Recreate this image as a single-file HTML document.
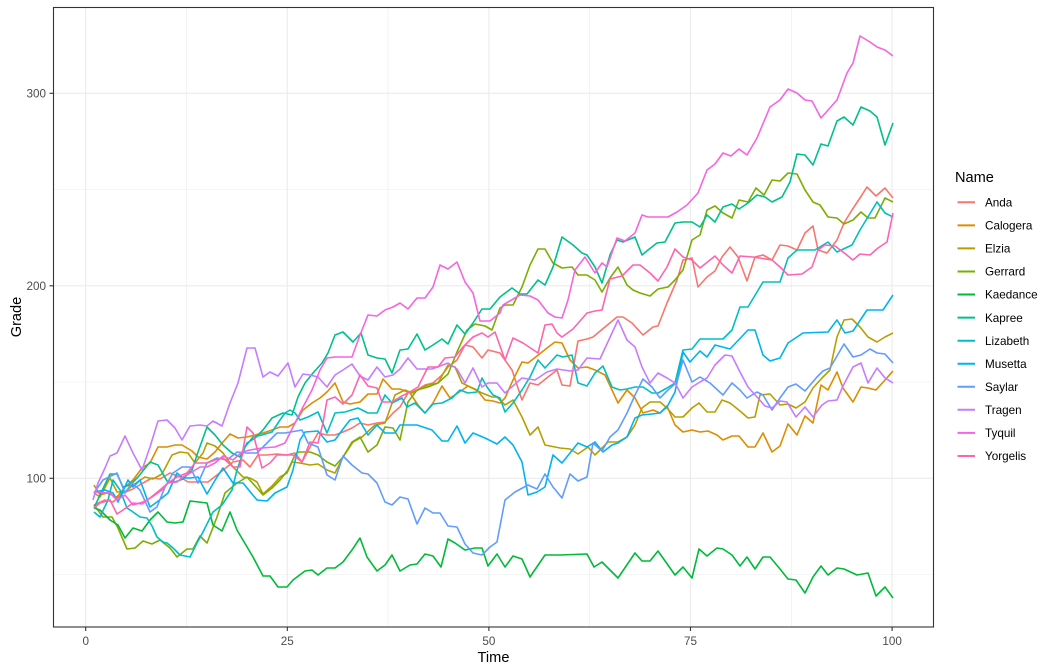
<!DOCTYPE html>
<html><head><meta charset="utf-8"><style>
html,body{margin:0;padding:0;background:#fff;}
svg{display:block;}
text{font-family:"Liberation Sans",Arial,sans-serif;}
</style></head><body>
<svg width="1056" height="672" viewBox="0 0 1056 672" xmlns="http://www.w3.org/2000/svg">
<rect x="0" y="0" width="1056" height="672" fill="#fff"/>
<g stroke="#EBEBEB" stroke-width="0.6" fill="none">
<line x1="53.5" x2="933.5" y1="574.5" y2="574.5"/>
<line x1="53.5" x2="933.5" y1="382" y2="382"/>
<line x1="53.5" x2="933.5" y1="189.5" y2="189.5"/>
<line y1="7.5" y2="627" x1="186.5" x2="186.5"/>
<line y1="7.5" y2="627" x1="388.1" x2="388.1"/>
<line y1="7.5" y2="627" x1="589.7" x2="589.7"/>
<line y1="7.5" y2="627" x1="791.3" x2="791.3"/>
</g>
<g stroke="#EBEBEB" stroke-width="1.1" fill="none">
<line x1="53.5" x2="933.5" y1="478.3" y2="478.3"/>
<line x1="53.5" x2="933.5" y1="285.8" y2="285.8"/>
<line x1="53.5" x2="933.5" y1="93.3" y2="93.3"/>
<line y1="7.5" y2="627" x1="85.7" x2="85.7"/>
<line y1="7.5" y2="627" x1="287.3" x2="287.3"/>
<line y1="7.5" y2="627" x1="488.9" x2="488.9"/>
<line y1="7.5" y2="627" x1="690.5" x2="690.5"/>
<line y1="7.5" y2="627" x1="892.1" x2="892.1"/>
</g>
<g fill="none" stroke-width="1.6" stroke-linejoin="round">
<polyline stroke="#F8766D" points="94,505 105,500 113,502 123,493 133,489 143,483 152,478 160,479 170,473 180,477 188,482 198,482 208,482 217,475 227,467 233,462 243,460 250,467 258,455 267,455 277,454 287,455 295,453 302,462 310,447 318,433 327,435 335,435 343,432 352,428 360,423 368,425 377,423 385,422 393,413 400,407 408,393 417,390 425,385 433,383 442,375 448,367 457,360 465,345 473,347 482,358 488,350 500,353 512,370 522,400 530,383 538,385 548,377 557,370 562,385 570,386 578,341 587,339 593,337 605,327 617,317 623,317 632,323 643,335 653,327 658,326 667,303 677,280 683,260 692,258 698,287 707,277 715,271 722,257 730,247 738,257 747,281 755,257 763,255 772,260 780,245 788,246 797,250 805,233 813,226 818,250 827,253 837,240 844,223 852,210 860,198 867,187 876,196 885,188 893,198"/>
<polyline stroke="#DE8C00" points="94,485 100,495 107,493 117,497 125,487 133,480 142,468 150,463 158,447 167,447 175,445 182,445 192,451 198,457 207,459 215,452 223,442 230,434 238,438 247,437 255,435 263,433 272,430 280,427 288,427 295,423 303,410 312,403 320,398 327,392 335,383 343,402 350,404 360,402 368,394 377,394 383,379 392,389 400,389 410,393 418,405 425,413 433,403 442,386 450,398 458,393 468,386 477,390 485,400 493,401 500,403 505,398 513,380 522,362 528,363 537,356 547,348 555,342 562,343 570,360 578,368 587,367 595,370 605,375 612,390 618,403 627,390 635,398 643,413 653,410 660,413 667,406 675,425 683,432 692,430 700,432 708,431 717,435 723,440 732,436 739,436 748,447 755,447 763,433 772,452 780,446 788,424 797,435 805,416 813,423 821,385 828,390 837,372 843,388 853,402 861,387 868,388 876,390 885,380 893,371"/>
<polyline stroke="#B79F00" points="94,493 100,497 110,478 117,492 125,492 133,485 145,477 153,479 162,474 172,455 180,452 188,453 195,463 203,453 207,443 215,446 223,453 233,467 243,477 250,478 257,482 263,494 272,486 280,477 287,473 292,462 300,463 310,465 318,464 327,470 335,473 343,457 353,442 362,437 375,425 385,423 395,395 405,390 412,393 418,390 428,385 438,383 448,365 455,367 462,383 472,388 482,393 492,397 497,397 505,405 513,400 522,417 530,435 538,427 545,445 560,448 570,449 578,454 588,447 595,455 602,448 608,442 618,442 627,437 635,425 642,408 650,402 660,402 667,408 675,417 683,417 692,408 699,403 707,412 715,412 722,400 730,403 740,411 748,418 755,417 760,395 770,394 780,405 788,404 796,408 805,402 813,388 822,378 830,370 837,337 844,320 852,319 860,327 868,337 877,342 885,337 893,333"/>
<polyline stroke="#7CAE00" points="94,505 103,517 112,517 118,528 127,549 135,548 143,541 152,544 160,540 170,548 177,557 187,549 193,549 200,536 207,543 217,517 225,493 237,483 247,477 257,488 263,495 272,488 280,480 288,470 295,455 298,452 310,452 318,455 327,462 335,466 343,457 352,442 360,437 368,452 377,445 385,427 393,428 400,440 408,402 417,390 428,387 438,383 448,374 457,352 467,330 475,324 485,326 492,330 500,308 505,305 513,305 522,287 530,265 538,249 545,249 553,263 562,268 572,267 578,275 587,275 595,280 602,292 610,278 618,267 627,285 633,290 640,293 650,296 658,289 668,287 675,280 683,270 692,240 700,235 707,210 715,206 723,213 732,218 739,200 748,202 756,188 764,195 772,180 780,181 788,173 797,174 805,190 813,202 820,205 828,217 837,218 844,224 853,220 861,212 868,218 875,218 885,198 893,202"/>
<polyline stroke="#00BA38" points="94,508 100,510 110,520 118,525 125,538 133,528 142,531 150,520 158,512 167,522 175,523 183,522 190,501 207,503 213,525 222,531 230,512 237,530 253,557 263,576 270,576 278,587 287,587 293,580 305,571 312,570 318,575 327,568 335,568 343,562 352,550 360,538 367,557 377,571 385,565 392,555 400,571 410,565 417,564 425,554 433,556 441,567 448,539 455,543 465,550 475,548 482,548 488,566 497,554 505,567 513,556 522,559 530,577 545,555 560,555 587,554 594,567 602,562 618,578 635,553 642,561 650,561 658,551 675,575 683,567 692,578 699,549 707,556 717,548 723,549 732,555 740,566 747,557 755,569 763,557 770,557 780,569 788,579 796,580 805,593 813,577 821,566 828,575 837,568 844,569 857,575 868,573 876,596 885,587 893,598"/>
<polyline stroke="#00C08B" points="94,508 100,495 110,474 117,474 123,487 130,485 138,477 150,462 158,465 167,481 175,482 183,479 192,470 198,452 207,427 215,435 223,445 232,453 240,457 247,443 255,438 263,430 272,418 283,413 292,415 298,397 305,383 313,373 322,363 328,353 335,335 343,332 353,342 361,333 368,355 377,358 385,359 392,373 400,350 408,349 417,334 425,350 433,345 442,339 448,344 457,325 465,334 473,323 482,309 490,309 500,297 512,288 520,294 527,294 538,280 545,285 553,267 562,237 573,245 582,253 587,255 595,267 602,283 610,255 617,240 623,242 635,237 642,255 648,250 657,243 665,242 675,223 683,222 692,222 700,227 707,215 715,222 723,207 732,204 739,209 748,203 757,195 765,197 772,202 782,197 790,182 797,154 805,155 813,165 821,144 828,146 837,121 844,117 853,125 861,107 870,111 877,117 885,145 893,123"/>
<polyline stroke="#00BFC4" points="94,512 100,517 108,500 113,480 120,490 127,508 133,512 140,517 147,518 152,526 157,537 163,542 167,543 173,548 180,555 190,557 197,543 203,532 213,512 222,505 232,490 237,470 245,447 253,437 262,435 272,432 280,420 285,413 290,410 295,413 300,420 308,417 318,412 327,433 335,413 345,412 358,408 368,413 377,413 385,395 392,403 402,398 407,407 415,403 425,413 433,404 442,403 452,398 460,390 468,393 477,392 482,378 487,387 493,395 500,398 505,412 513,403 522,390 530,377 538,360 545,368 557,355 563,357 572,355 578,383 587,386 595,373 603,366 612,387 620,390 627,389 635,387 643,387 652,393 658,393 667,388 675,383 683,350 692,349 700,339 723,339 732,330 740,307 748,307 763,282 780,282 788,258 797,250 815,250 828,242 837,252 852,245 860,230 877,202 885,213 893,217"/>
<polyline stroke="#00B4F0" points="94,492 105,490 113,493 118,502 128,480 133,487 140,480 150,507 157,502 168,493 177,473 183,478 190,478 198,477 207,494 217,477 223,468 233,483 243,483 257,500 267,501 275,493 287,487 293,470 300,440 305,432 318,431 327,442 335,440 343,429 350,420 358,418 368,435 377,425 385,433 395,433 400,425 417,425 432,430 442,441 448,441 457,426 465,443 473,433 485,438 497,444 505,437 513,445 522,462 528,495 537,492 545,487 553,455 562,463 570,453 578,443 587,447 595,442 603,452 612,445 618,443 627,437 635,418 642,415 652,414 660,413 667,407 675,392 683,352 690,362 700,351 707,357 715,345 730,349 748,330 755,330 763,355 770,361 780,358 788,343 803,333 828,332 837,320 845,333 853,331 867,310 883,310 893,295"/>
<polyline stroke="#619CFF" points="94,493 103,480 117,473 125,493 132,483 140,490 150,512 157,507 165,487 173,473 182,467 190,467 198,483 207,463 217,458 227,460 237,452 247,453 257,453 267,443 277,433 285,433 302,430 308,443 318,447 327,475 335,480 343,456 352,465 362,473 368,474 377,483 385,502 392,505 400,497 408,499 417,524 425,508 433,513 440,513 448,526 457,527 465,544 473,553 482,555 490,547 497,542 505,500 515,492 528,485 537,489 545,474 553,487 562,498 570,474 578,481 587,477 593,443 602,451 610,437 618,430 627,413 635,395 643,379 652,387 660,398 668,390 677,382 683,360 692,382 700,377 710,383 723,395 732,383 740,390 747,398 757,392 763,395 772,410 780,398 788,387 796,384 805,391 817,377 823,371 830,368 844,344 853,357 861,355 870,349 877,353 885,354 893,363"/>
<polyline stroke="#C77CFF" points="93,500 98,483 105,468 110,456 117,453 125,436 133,453 142,470 150,447 158,421 167,420 175,428 182,440 190,426 200,425 207,426 213,421 222,426 230,403 238,383 247,348 255,348 263,377 270,372 278,376 288,363 295,387 303,374 310,375 318,377 327,387 335,375 343,370 352,364 360,376 368,380 377,367 385,377 393,375 400,369 408,358 417,369 432,369 448,363 457,369 465,383 473,368 482,387 488,383 497,383 505,393 522,378 535,380 547,372 557,369 570,371 578,370 587,358 600,359 618,320 627,340 635,347 642,367 650,383 658,373 667,378 675,383 683,398 692,387 700,382 707,378 715,365 725,355 732,356 740,372 748,387 757,397 765,406 772,408 780,401 787,402 796,417 805,407 813,417 822,405 828,401 837,400 843,386 853,367 861,363 868,383 877,368 885,378 893,383"/>
<polyline stroke="#F564E3" points="94,492 110,493 117,500 125,495 133,505 143,502 152,497 162,490 168,483 177,482 183,477 192,472 200,467 207,467 215,463 223,456 233,460 242,452 250,450 262,448 275,447 285,443 295,423 303,407 312,390 320,370 327,358 335,357 352,357 360,335 368,315 377,316 385,310 393,307 400,303 408,309 417,298 425,298 433,287 440,265 448,269 457,262 465,282 473,293 480,321 490,321 500,313 503,305 520,295 530,296 538,300 548,313 555,317 562,318 568,300 575,270 585,257 590,265 595,273 602,263 607,267 617,238 625,241 635,233 642,215 648,217 660,217 668,217 677,212 687,205 698,193 707,170 715,164 723,153 731,156 739,149 747,155 757,138 770,107 780,100 788,89 797,93 805,100 812,101 821,118 837,100 847,73 853,63 860,36 870,42 877,47 885,50 893,56"/>
<polyline stroke="#FF64B0" points="94,508 100,503 110,500 117,514 123,510 133,503 142,504 150,498 160,490 168,483 177,477 187,473 195,463 207,463 215,460 223,458 233,467 240,467 247,427 253,433 262,468 270,463 277,455 287,455 293,455 302,462 310,442 318,443 323,423 327,400 335,397 343,404 352,395 360,375 368,386 377,388 382,402 392,402 400,397 408,393 418,387 428,367 438,367 445,358 455,357 463,347 473,337 482,333 488,337 495,332 505,360 513,338 523,343 538,353 545,325 552,324 557,333 562,337 573,329 587,313 595,311 602,310 610,279 622,276 633,265 640,265 650,273 658,281 667,267 675,249 683,257 692,260 700,268 715,256 723,265 732,273 740,256 753,257 772,260 780,267 788,275 802,274 812,267 818,250 825,245 835,246 843,252 853,260 860,254 870,255 878,248 887,242 893,213"/>
</g>
<rect x="53.5" y="7.5" width="880" height="619.5" fill="none" stroke="#333333" stroke-width="1.1"/>
<g stroke="#333333" stroke-width="1.1">
<line x1="49.5" x2="53.5" y1="478.3" y2="478.3"/>
<line x1="49.5" x2="53.5" y1="285.8" y2="285.8"/>
<line x1="49.5" x2="53.5" y1="93.3" y2="93.3"/>
<line y1="627" y2="631" x1="85.7" x2="85.7"/>
<line y1="627" y2="631" x1="287.3" x2="287.3"/>
<line y1="627" y2="631" x1="488.9" x2="488.9"/>
<line y1="627" y2="631" x1="690.5" x2="690.5"/>
<line y1="627" y2="631" x1="892.1" x2="892.1"/>
</g>
<g font-size="11.7" fill="#4D4D4D">
<text x="46" y="482.5" text-anchor="end">100</text>
<text x="46" y="290" text-anchor="end">200</text>
<text x="46" y="97.5" text-anchor="end">300</text>
<text x="85.7" y="645" text-anchor="middle">0</text>
<text x="287.3" y="645" text-anchor="middle">25</text>
<text x="488.9" y="645" text-anchor="middle">50</text>
<text x="690.5" y="645" text-anchor="middle">75</text>
<text x="892.1" y="645" text-anchor="middle">100</text>
</g>
<text x="493.5" y="662" text-anchor="middle" font-size="14.6" fill="#000">Time</text>
<text transform="translate(21,317) rotate(-90)" text-anchor="middle" font-size="14.6" fill="#000">Grade</text>
<text x="955" y="182" font-size="14.6" fill="#000">Name</text>
<g stroke-width="2">
<line x1="957.5" x2="975" y1="202.3" y2="202.3" stroke="#F8766D"/>
<line x1="957.5" x2="975" y1="225.4" y2="225.4" stroke="#DE8C00"/>
<line x1="957.5" x2="975" y1="248.4" y2="248.4" stroke="#B79F00"/>
<line x1="957.5" x2="975" y1="271.5" y2="271.5" stroke="#7CAE00"/>
<line x1="957.5" x2="975" y1="294.5" y2="294.5" stroke="#00BA38"/>
<line x1="957.5" x2="975" y1="317.6" y2="317.6" stroke="#00C08B"/>
<line x1="957.5" x2="975" y1="340.7" y2="340.7" stroke="#00BFC4"/>
<line x1="957.5" x2="975" y1="363.7" y2="363.7" stroke="#00B4F0"/>
<line x1="957.5" x2="975" y1="386.8" y2="386.8" stroke="#619CFF"/>
<line x1="957.5" x2="975" y1="409.8" y2="409.8" stroke="#C77CFF"/>
<line x1="957.5" x2="975" y1="432.9" y2="432.9" stroke="#F564E3"/>
<line x1="957.5" x2="975" y1="456" y2="456" stroke="#FF64B0"/>
</g>
<g font-size="11.7" fill="#000">
<text x="985" y="206.5">Anda</text>
<text x="985" y="229.6">Calogera</text>
<text x="985" y="252.6">Elzia</text>
<text x="985" y="275.7">Gerrard</text>
<text x="985" y="298.7">Kaedance</text>
<text x="985" y="321.8">Kapree</text>
<text x="985" y="344.9">Lizabeth</text>
<text x="985" y="367.9">Musetta</text>
<text x="985" y="391">Saylar</text>
<text x="985" y="414">Tragen</text>
<text x="985" y="437.1">Tyquil</text>
<text x="985" y="460.2">Yorgelis</text>
</g>
</svg>
</body></html>
